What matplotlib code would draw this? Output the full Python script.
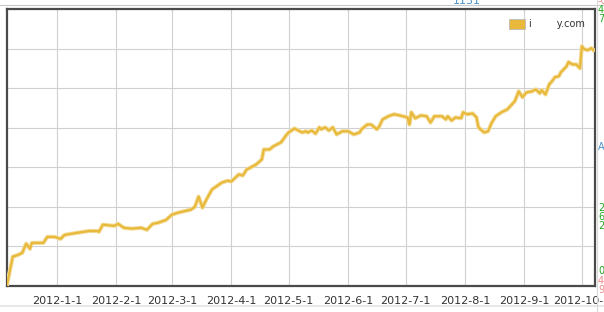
#!/usr/bin/env python3
"""Cumulative line chart, Dec 2011 - Oct 2012, gold line on a gray grid."""
import matplotlib
matplotlib.use("Agg")
import matplotlib.pyplot as plt
import matplotlib.patches as mpatches
import pandas as pd

# values (grid units, 0-7)
dates = [
    "2011-12-06", "2011-12-09", "2011-12-12", "2011-12-14", "2011-12-16",
    "2011-12-18", "2011-12-19", "2011-12-25", "2011-12-27", "2011-12-31",
    "2012-01-03", "2012-01-05", "2012-01-11", "2012-01-18", "2012-01-22",
    "2012-01-23", "2012-01-25", "2012-01-31", "2012-02-02", "2012-02-05",
    "2012-02-09", "2012-02-14", "2012-02-17", "2012-02-20", "2012-02-23",
    "2012-02-27", "2012-03-01", "2012-03-04", "2012-03-11", "2012-03-13",
    "2012-03-15", "2012-03-17", "2012-03-19", "2012-03-22", "2012-03-27",
    "2012-03-30", "2012-04-01", "2012-04-05", "2012-04-07", "2012-04-09",
    "2012-04-14", "2012-04-17", "2012-04-18", "2012-04-21", "2012-04-23",
    "2012-04-27", "2012-04-30", "2012-05-01", "2012-05-04", "2012-05-06",
    "2012-05-08", "2012-05-10", "2012-05-11", "2012-05-13", "2012-05-15",
    "2012-05-17", "2012-05-18", "2012-05-20", "2012-05-22", "2012-05-24",
    "2012-05-26", "2012-05-29", "2012-06-01", "2012-06-04", "2012-06-07",
    "2012-06-08", "2012-06-11", "2012-06-13", "2012-06-16", "2012-06-17",
    "2012-06-19", "2012-06-22", "2012-06-25", "2012-06-28", "2012-07-02",
    "2012-07-03", "2012-07-04", "2012-07-06", "2012-07-09", "2012-07-12",
    "2012-07-14", "2012-07-16", "2012-07-20", "2012-07-22", "2012-07-23",
    "2012-07-25", "2012-07-27", "2012-07-30", "2012-07-31", "2012-08-02",
    "2012-08-05", "2012-08-07", "2012-08-08", "2012-08-11", "2012-08-13",
    "2012-08-15", "2012-08-17", "2012-08-20", "2012-08-23", "2012-08-24",
    "2012-08-27", "2012-08-28", "2012-08-29", "2012-08-31", "2012-09-02",
    "2012-09-05", "2012-09-07", "2012-09-09", "2012-09-10", "2012-09-12",
    "2012-09-14", "2012-09-15", "2012-09-17", "2012-09-19", "2012-09-20",
    "2012-09-23", "2012-09-24", "2012-09-26", "2012-09-28", "2012-09-30",
    "2012-10-01", "2012-10-02", "2012-10-04", "2012-10-06", "2012-10-07",
]
values = [
    0.03, 0.74, 0.79, 0.84, 1.07,
    0.94, 1.09, 1.09, 1.24, 1.24,
    1.19, 1.29, 1.34, 1.39, 1.39,
    1.37, 1.55, 1.52, 1.57, 1.47,
    1.45, 1.47, 1.42, 1.57, 1.60,
    1.67, 1.80, 1.85, 1.93, 2.00,
    2.26, 1.98, 2.18, 2.44, 2.61,
    2.66, 2.64, 2.82, 2.79, 2.94,
    3.07, 3.20, 3.45, 3.45, 3.53,
    3.63, 3.83, 3.88, 3.98, 3.93,
    3.88, 3.91, 3.88, 3.93, 3.85,
    4.01, 3.96, 4.01, 3.93, 4.01,
    3.83, 3.91, 3.91, 3.83, 3.88,
    3.96, 4.08, 4.08, 3.96, 4.01,
    4.21, 4.29, 4.34, 4.31, 4.26,
    4.08, 4.39, 4.24, 4.31, 4.29,
    4.13, 4.29, 4.29, 4.21, 4.29,
    4.18, 4.26, 4.24, 4.39, 4.34,
    4.36, 4.26, 4.01, 3.88, 3.91,
    4.13, 4.29, 4.39, 4.46, 4.51,
    4.67, 4.79, 4.92, 4.77, 4.89,
    4.92, 4.97, 4.87, 4.95, 4.84,
    5.10, 5.15, 5.28, 5.30, 5.40,
    5.55, 5.66, 5.60, 5.60, 5.50,
    6.06, 5.99, 5.96, 6.01, 5.96,
]
tick_dates = ["2012-01-01", "2012-02-01", "2012-03-01", "2012-04-01", "2012-05-01",
              "2012-06-01", "2012-07-01", "2012-08-01", "2012-09-01", "2012-10-01"]
tick_labels = ["2012-1-1", "2012-2-1", "2012-3-1", "2012-4-1", "2012-5-1",
               "2012-6-1", "2012-7-1", "2012-8-1", "2012-9-1", "2012-10-1"]
legend_label = "i        y.com"

LINE = "#e8b93a"
FRAME = "#4a4a4a"
GRID = "#d0d0d0"

x = pd.to_datetime(dates)

fig = plt.figure(figsize=(6.04, 3.12), dpi=100)
fig.patch.set_facecolor("white")
ax = fig.add_axes([7 / 604, 26 / 312, 588 / 604, 277 / 312])

# soft glow under the line, then the line itself
ax.plot(x, values, color="#f3dd9e", linewidth=3.0, solid_joinstyle="round", zorder=3)
ax.plot(x, values, color=LINE, linewidth=1.6, solid_joinstyle="round", zorder=4)

ax.set_xlim(pd.Timestamp("2011-12-06"), pd.Timestamp("2012-10-07 20:00"))
ax.set_ylim(0, 7)
ax.set_xticks(pd.to_datetime(tick_dates))
ax.set_xticklabels(tick_labels)
ax.set_yticks(range(0, 8))
ax.set_yticklabels([])
ax.tick_params(axis="both", length=0, pad=7)
ax.tick_params(axis="x", labelsize=8, labelcolor="#333333")
ax.grid(True, color=GRID, linewidth=0.8)
ax.set_axisbelow(True)
for sp in ax.spines.values():
    sp.set_color(FRAME)
    sp.set_linewidth(1.6)

handle = mpatches.Patch(facecolor=LINE, edgecolor="#bbbbbb", linewidth=0.6)
leg = ax.legend([handle], [legend_label], loc="upper right", frameon=False,
                fontsize=7, handlelength=1.6, handleheight=1.2,
                handletextpad=0.5, borderaxespad=0.5,
                bbox_to_anchor=(0.9985, 0.996))
for t in leg.get_texts():
    t.set_color("#333333")

# page bits cut off around the chart
fig.add_artist(plt.Line2D([0, 1], [1 - 5 / 312, 1 - 5 / 312], color="#c8c8c8", linewidth=0.8))
fig.add_artist(plt.Line2D([0, 1], [6 / 312, 6 / 312], color="#e4e4e4", linewidth=1.2))
fig.add_artist(plt.Line2D([597 / 604, 597 / 604], [0, 1], color="#d8d8d8", linewidth=0.8))
fig.text(467 / 604, 1 - 1 / 312, "1131", color="#4a8fc8", fontsize=8, ha="center", va="center")
side = [(10, "4", "#22aa22"), (19, "7", "#22aa22"), (147, "A", "#4a8fc8"),
        (208, "2", "#22aa22"), (217, "6", "#22aa22"), (226, "2", "#22aa22"),
        (271, "0", "#22aa22"), (281, "4", "#ee8888"), (290, "9", "#ee8888"),
        (1, "-0", "#ee8888")]
for yy, s, c in side:
    fig.text(598 / 604, 1 - yy / 312, s, color=c, fontsize=7, ha="left", va="center")

fig.savefig("out.png", dpi=100)
